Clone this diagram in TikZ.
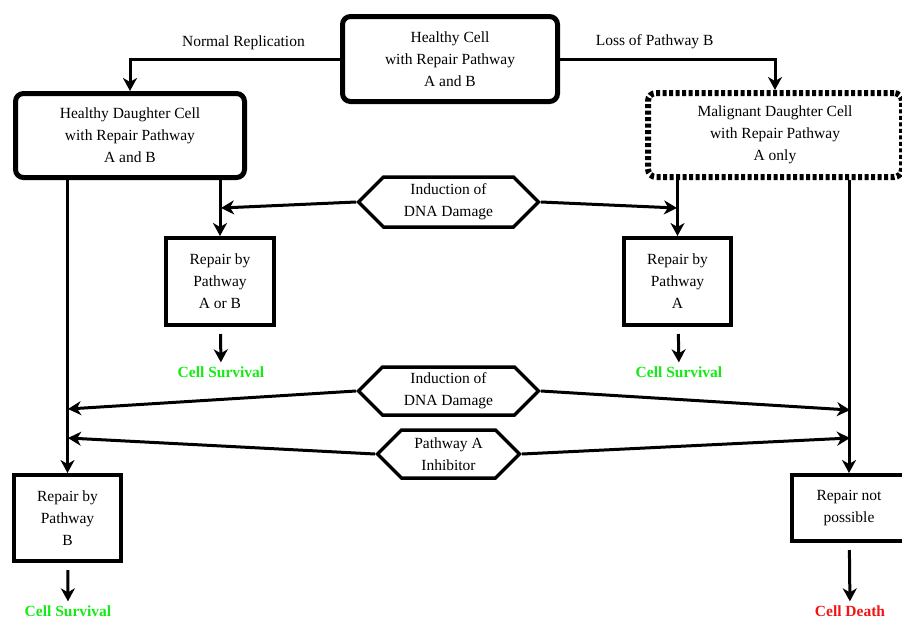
\documentclass[tikz,border=0pt]{standalone}
\usepackage{fontspec}
\setmainfont{Liberation Serif}
\usepackage{xcolor}
\usepackage{tikz}
\usetikzlibrary{
  arrows.meta,
  positioning,
  shapes.symbols}
\definecolor{survivegreen}{RGB}{20,235,20}
\definecolor{deathred}{RGB}{240,20,20}
\tikzset{every picture/.style={font issue=\fontsize{15.5}{22}},
         font issue/.style={execute at begin picture={#1\selectfont}}
        }

\begin{document}
\begin{tikzpicture}[x=1pt, y=-1pt,
  cellbox/.style={draw, line width=5pt, rounded corners=8pt, align=center, inner sep=0pt},
  mutantbox/.style={draw, line width=6pt, dash pattern=on 4pt off 2.5pt, rounded corners=8pt, align=center, inner sep=0pt},
  repairbox/.style={draw, line width=4pt, align=center, inner sep=0pt},
  hexbox/.style={draw, line width=3.5pt, shape=signal, signal to=west and east, signal pointer angle=90, align=center, inner sep=0pt},
  flow/.style={-{Stealth[length=13pt, width=14pt, inset=4pt]}, line width=3pt},
  outcome/.style={font=\bfseries, inner sep=1pt}]
\useasboundingbox (0,0) rectangle (902,619);

%cells
\node[cellbox, minimum width=215, minimum height=85] (healthy) at (450,59) {Healthy Cell\\with Repair Pathway\\A and B};
\node[cellbox, minimum width=229, minimum height=84] (daughter) at (130,135.5) {Healthy Daughter Cell\\with Repair Pathway\\A and B};
\node[mutantbox, minimum width=254, minimum height=84] (malignant) at (775,135) {Malignant Daughter Cell\\with Repair Pathway\\A only};

%insults
\node[hexbox, minimum width=180, minimum height=50] (damage1) at (448.5,202) {Induction of\\DNA Damage};
\node[hexbox, minimum width=180, minimum height=48] (damage2) at (448.5,391) {Induction of\\DNA Damage};
\node[hexbox, minimum width=142, minimum height=48] (inhibitor) at (448.5,454) {Pathway A\\Inhibitor};

%repair
\node[repairbox, minimum width=108, minimum height=87] (repAB) at (220,281.5) {Repair by\\Pathway\\A or B};
\node[repairbox, minimum width=107, minimum height=87] (repA) at (677.5,281.5) {Repair by\\Pathway\\A};
\node[repairbox, minimum width=107, minimum height=86] (repB) at (67.5,518) {Repair by\\Pathway\\B};
\node[repairbox, minimum width=114, minimum height=66] (repNot) at (849,508) {Repair not\\possible};

%outcomes
\node[outcome, text=survivegreen] (survAB) at (221,372) {Cell Survival};
\node[outcome, text=survivegreen] (survA) at (679,372) {Cell Survival};
\node[outcome, text=survivegreen] (survB) at (68,611) {Cell Survival};
\node[outcome, text=deathred] (death) at (850,611) {Cell Death};

\coordinate (dmgAB) at (221,208);
\coordinate (dmgA) at (677,208);
\coordinate (dmgB) at (68,409);
\coordinate (dmgNot) at (850,410);
\coordinate (inhB) at (68,438);
\coordinate (inhNot) at (850,438);

%lines
\draw[flow] (healthy.west) -| node[pos=0.23, above=3pt]{Normal Replication} (daughter.north);
\draw[flow] (healthy.east) -| node[pos=0.22, above=3pt]{Loss of Pathway B} (malignant.north);
\draw[flow] (daughter.south -| repB.north) -- (repB.north);
\draw[flow] (daughter.south -| repAB.north) -- (repAB.north);
\draw[flow] (malignant.south -| repA.north) -- (repA.north);
\draw[flow] (malignant.south -| repNot.north) -- (repNot.north);

\draw[flow] (damage1.west) -- (dmgAB);
\draw[flow] (damage1.east) -- (dmgA);
\draw[flow] (damage2.west) -- (dmgB);
\draw[flow] (damage2.east) -- (dmgNot);
\draw[flow] (inhibitor.west) -- (inhB);
\draw[flow] (inhibitor.east) -- (inhNot);

\draw[flow, shorten <=7pt, shorten >=3pt] (repAB) -- (survAB);
\draw[flow, shorten <=7pt, shorten >=3pt] (repA) -- (survA);
\draw[flow, shorten <=7pt, shorten >=3pt] (repB) -- (survB);
\draw[flow, shorten <=7pt, shorten >=3pt] (repNot) -- (death);

\end{tikzpicture}
\end{document}
